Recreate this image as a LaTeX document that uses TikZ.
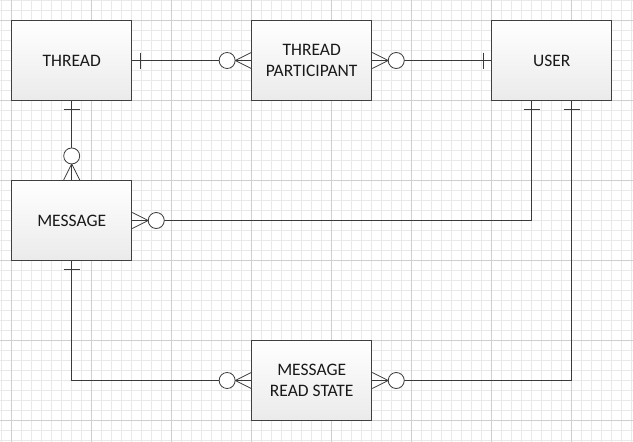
\documentclass[tikz,border=0pt]{standalone}
\usepackage{fontspec}
\setmainfont{Carlito}
\usetikzlibrary{calc}
\definecolor{minorgrid}{HTML}{E9E9E9}
\definecolor{majorgrid}{HTML}{CFCFCF}
\definecolor{edge}{HTML}{404040}
\definecolor{conn}{HTML}{3A3A3A}
\tikzset{
  entity/.style={rectangle, draw=edge, line width=1.1pt, minimum width=120pt, minimum height=80pt,
    top color=white, bottom color=black!8, align=center, text=black!90,
    font=\fontsize{17.5}{21}\selectfont, inner sep=0pt},
  rel/.style={draw=conn, line width=0.9pt},
  notation/.style={draw=conn, line width=0.8pt},
  ring/.style={draw=conn, line width=0.8pt, fill=white},
}
\begin{document}
\begin{tikzpicture}[x=1pt,y=-1pt]
\useasboundingbox (0,0) rectangle (633,442);
\fill[white] (0,0) rectangle (633,442);
% grid
\foreach \i in {0,...,63} \draw[minorgrid, line width=0.6pt] (1.7+10*\i,0) -- (1.7+10*\i,442);
\foreach \i in {0,...,44} \draw[minorgrid, line width=0.6pt] (0,0.5+10*\i) -- (633,0.5+10*\i);
\foreach \i in {0,...,7} \draw[majorgrid, line width=0.7pt] (11.7+80*\i,0) -- (11.7+80*\i,442);
\foreach \i in {0,...,5} \draw[majorgrid, line width=0.7pt] (0,20.5+80*\i) -- (633,20.5+80*\i);

% entities
\node[entity] (thread) at (71.7,60.5) {THREAD};
\node[entity] (tp) at (311.7,60.5) {THREAD\\PARTICIPANT};
\node[entity] (user) at (551.7,60.5) {USER};
\node[entity] (msg) at (71.7,220.5) {MESSAGE};
\node[entity] (mrs) at (311.7,380.5) {MESSAGE\\READ STATE};

% helper coordinates on USER bottom
\coordinate (uL) at ($(user.south)+(-20,0)$);
\coordinate (uR) at ($(user.south)+(20,0)$);

% connectors
\draw[rel] (thread.east) -- (tp.west);
\draw[rel] (tp.east) -- (user.west);
\draw[rel] (thread.south) -- (msg.north);
\draw[rel] (msg.east) -| (uL);
\draw[rel] (uR) |- (mrs.east);
\draw[rel] (msg.south) |- (mrs.west);

% THREAD -- TP : one at thread, many (zero) at tp
\draw[notation] ($(thread.east)+(8,-8)$) -- ($(thread.east)+(8,8)$);
\draw[notation] ($(tp.west)+(-16,0)$) -- ($(tp.west)+(0,-8)$);
\draw[notation] ($(tp.west)+(-16,0)$) -- ($(tp.west)+(0,8)$);
\draw[ring] ($(tp.west)+(-24,0)$) circle (8);

% TP -- USER
\draw[notation] ($(tp.east)+(16,0)$) -- ($(tp.east)+(0,-8)$);
\draw[notation] ($(tp.east)+(16,0)$) -- ($(tp.east)+(0,8)$);
\draw[ring] ($(tp.east)+(24,0)$) circle (8);
\draw[notation] ($(user.west)+(-8,-8)$) -- ($(user.west)+(-8,8)$);

% THREAD -- MESSAGE
\draw[notation] ($(thread.south)+(-8,8)$) -- ($(thread.south)+(8,8)$);
\draw[notation] ($(msg.north)+(0,-16)$) -- ($(msg.north)+(-8,0)$);
\draw[notation] ($(msg.north)+(0,-16)$) -- ($(msg.north)+(8,0)$);
\draw[ring] ($(msg.north)+(0,-24)$) circle (8);

% MESSAGE -- USER
\draw[notation] ($(msg.east)+(16,0)$) -- ($(msg.east)+(0,-8)$);
\draw[notation] ($(msg.east)+(16,0)$) -- ($(msg.east)+(0,8)$);
\draw[ring] ($(msg.east)+(24,0)$) circle (8);
\draw[notation] ($(uL)+(-8,8)$) -- ($(uL)+(8,8)$);

% USER -- MRS
\draw[notation] ($(uR)+(-8,8)$) -- ($(uR)+(8,8)$);
\draw[notation] ($(mrs.east)+(16,0)$) -- ($(mrs.east)+(0,-8)$);
\draw[notation] ($(mrs.east)+(16,0)$) -- ($(mrs.east)+(0,8)$);
\draw[ring] ($(mrs.east)+(24,0)$) circle (8);

% MESSAGE -- MRS
\draw[notation] ($(msg.south)+(-8,8)$) -- ($(msg.south)+(8,8)$);
\draw[notation] ($(mrs.west)+(-16,0)$) -- ($(mrs.west)+(0,-8)$);
\draw[notation] ($(mrs.west)+(-16,0)$) -- ($(mrs.west)+(0,8)$);
\draw[ring] ($(mrs.west)+(-24,0)$) circle (8);
\end{tikzpicture}
\end{document}
